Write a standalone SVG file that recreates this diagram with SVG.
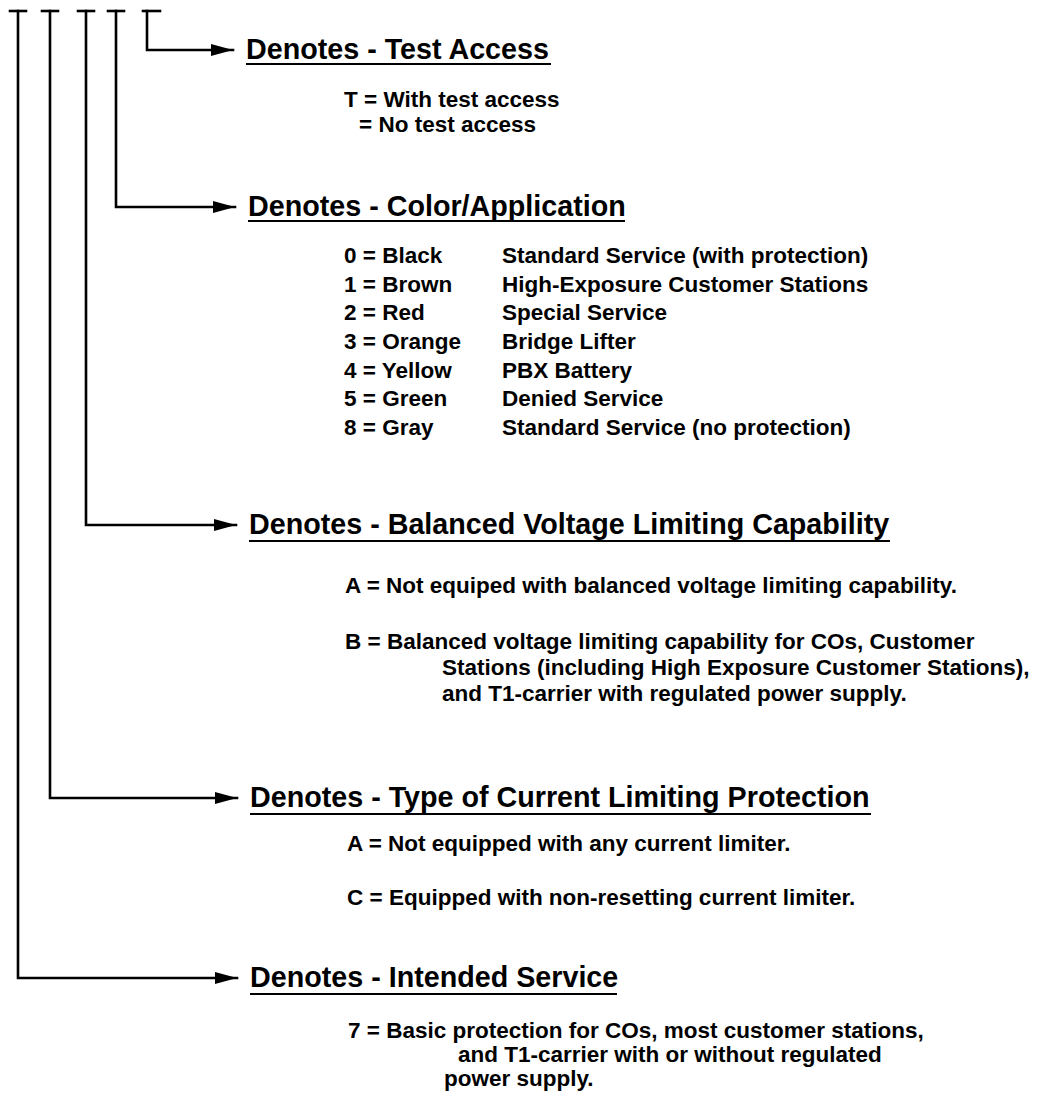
<svg xmlns="http://www.w3.org/2000/svg" width="1040" height="1107" viewBox="0 0 1040 1107">
<style>
.bg{fill:#fff}
.ln{fill:none;stroke:#000;stroke-width:2.6;stroke-linecap:square}
.ul{stroke:#000;stroke-width:2}
.ttl{font-family:"Liberation Sans",Arial,Helvetica,sans-serif;font-weight:bold;font-size:28.7px;fill:#000}
.txt{font-family:"Liberation Sans",Arial,Helvetica,sans-serif;font-weight:bold;font-size:22.5px;fill:#000}
</style>
<defs>
<marker id="ah" markerUnits="userSpaceOnUse" markerWidth="24" markerHeight="14" refX="22" refY="6" orient="auto">
<path d="M0,0 L22,6 L0,12 z" fill="#000"/>
</marker>
</defs>
<rect class="bg" x="0" y="0" width="1040" height="1107"/>
<g id="connectors">
<path class="ln" d="M10,11 H26"/>
<path class="ln" d="M42,11 H58"/>
<path class="ln" d="M78,11 H94"/>
<path class="ln" d="M108,11 H124"/>
<path class="ln" d="M143,11 H160"/>
<path class="ln" d="M147,11 V50 H233" marker-end="url(#ah)"/>
<path class="ln" d="M116,11 V207 H235" marker-end="url(#ah)"/>
<path class="ln" d="M86,11 V525 H236" marker-end="url(#ah)"/>
<path class="ln" d="M50,11 V798 H237" marker-end="url(#ah)"/>
<path class="ln" d="M18,11 V978 H237" marker-end="url(#ah)"/>
</g>
<g id="node-test-access">
<text class="ttl" x="246" y="59">Denotes - Test Access</text>
<line class="ul" x1="246" y1="64" x2="551" y2="64"/>
<text class="txt" x="344" y="107">T = With test access</text>
<text class="txt" x="359" y="132">= No test access</text>
</g>
<g id="node-color-application">
<text class="ttl" x="248" y="216">Denotes - Color/Application</text>
<line class="ul" x1="248" y1="221" x2="625" y2="221"/>
<text class="txt" x="344" y="263">0 = Black</text>
<text class="txt" x="502" y="263">Standard Service (with protection)</text>
<text class="txt" x="344" y="291.7">1 = Brown</text>
<text class="txt" x="502" y="291.7">High-Exposure Customer Stations</text>
<text class="txt" x="344" y="320.3">2 = Red</text>
<text class="txt" x="502" y="320.3">Special Service</text>
<text class="txt" x="344" y="349">3 = Orange</text>
<text class="txt" x="502" y="349">Bridge Lifter</text>
<text class="txt" x="344" y="377.7">4 = Yellow</text>
<text class="txt" x="502" y="377.7">PBX Battery</text>
<text class="txt" x="344" y="406.3">5 = Green</text>
<text class="txt" x="502" y="406.3">Denied Service</text>
<text class="txt" x="344" y="435">8 = Gray</text>
<text class="txt" x="502" y="435">Standard Service (no protection)</text>
</g>
<g id="node-balanced-voltage">
<text class="ttl" x="249" y="534">Denotes - Balanced Voltage Limiting Capability</text>
<line class="ul" x1="249" y1="541" x2="890" y2="541"/>
<text class="txt" x="345" y="593">A = Not equiped with balanced voltage limiting capability.</text>
<text class="txt" x="345" y="649">B = Balanced voltage limiting capability for COs, Customer</text>
<text class="txt" x="442" y="675">Stations (including High Exposure Customer Stations),</text>
<text class="txt" x="442" y="701">and T1-carrier with regulated power supply.</text>
</g>
<g id="node-current-limiting">
<text class="ttl" x="250" y="807">Denotes - Type of Current Limiting Protection</text>
<line class="ul" x1="250" y1="814" x2="871" y2="814"/>
<text class="txt" x="347" y="851">A = Not equipped with any current limiter.</text>
<text class="txt" x="347" y="905">C = Equipped with non-resetting current limiter.</text>
</g>
<g id="node-intended-service">
<text class="ttl" x="250" y="987">Denotes - Intended Service</text>
<line class="ul" x1="250" y1="994" x2="617" y2="994"/>
<text class="txt" x="348" y="1038">7 = Basic protection for COs, most customer stations,</text>
<text class="txt" x="458" y="1062">and T1-carrier with or without regulated</text>
<text class="txt" x="444" y="1086">power supply.</text>
</g>
</svg>
